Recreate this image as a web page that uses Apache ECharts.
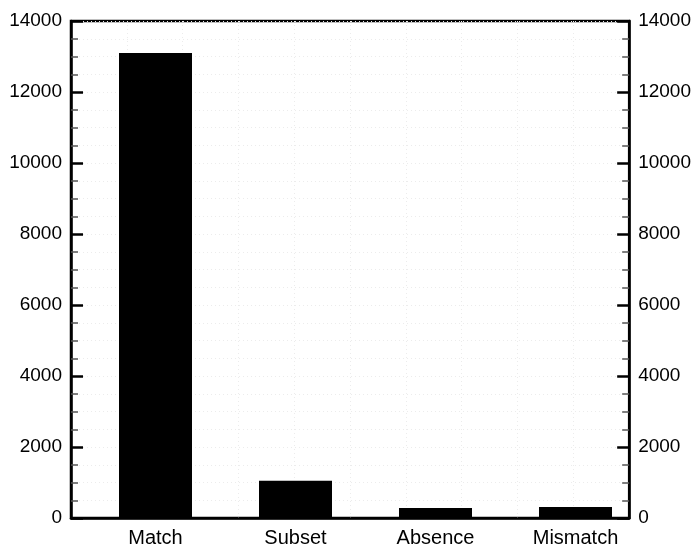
<!DOCTYPE html>
<html>
<head>
<meta charset="utf-8">
<script src="https://cdn.jsdelivr.net/npm/echarts@6/dist/echarts.min.js"></script>
<style>
  html, body { margin: 0; padding: 0; background: #fff; }
  #chart { width: 694px; height: 548px; }
</style>
</head>
<body>
<div id="chart"></div>
<script>
// categories and counts
var categories = ['Match', 'Subset', 'Absence', 'Mismatch'];
var counts = [13100, 1050, 280, 310];
var yTicks = [0, 2000, 4000, 6000, 8000, 10000, 12000, 14000];

var font = 'Liberation Sans, Arial, Helvetica, sans-serif';
var dotted = { color: '#ececec', type: [1, 3], width: 1 };

var yMax = yTicks[yTicks.length - 1];

function yAxisOpt(pos, grid) {
  return {
    type: 'value',
    gridIndex: 0,
    position: pos,
    min: yTicks[0],
    max: yMax,
    interval: yTicks[1] - yTicks[0],
    axisLine: { show: true, lineStyle: { color: '#000', width: 2.5 } },
    axisTick: { show: true, inside: true, length: 12, lineStyle: { color: '#000', width: 2.5 } },
    minorTick: { show: true, splitNumber: 4, length: 7, lineStyle: { color: '#555', width: 1.5 } },
    axisLabel: {
      color: '#000', fontSize: 19, fontFamily: font, margin: 9,
      formatter: function (v) { return String(v); }
    },
    splitLine: { show: grid, lineStyle: dotted },
    minorSplitLine: { show: grid, lineStyle: dotted }
  };
}

var chart = echarts.init(document.getElementById('chart'));
chart.setOption({
  animation: false,
  backgroundColor: '#fff',
  grid: [
    { left: 71, right: 63, top: 21, bottom: 30, show: true, borderColor: '#000', borderWidth: 2.5, backgroundColor: 'transparent' },
    { left: 85.5, width: 560, top: 21, bottom: 30 }
  ],
  xAxis: [
    {
      type: 'value', gridIndex: 0, min: 0, max: 10, interval: 1,
      axisLine: { show: true, lineStyle: { color: '#000', width: 2.5 } },
      axisTick: { show: false },
      axisLabel: { show: false },
      splitLine: { show: true, lineStyle: dotted }
    },
    {
      type: 'category', gridIndex: 1, data: categories,
      axisLine: { show: false },
      axisTick: { show: false },
      axisLabel: { color: '#000', fontSize: 20, fontFamily: font, margin: 10 },
      splitLine: { show: false }
    }
  ],
  yAxis: [
    yAxisOpt('left', true),
    yAxisOpt('right', false),
    { type: 'value', gridIndex: 1, min: 0, max: yMax, show: false }
  ],
  series: [
    {
      type: 'bar',
      xAxisIndex: 1,
      yAxisIndex: 2,
      data: counts,
      barWidth: 73,
      itemStyle: { color: '#000' },
      z: 1
    }
  ]
});
</script>
</body>
</html>
